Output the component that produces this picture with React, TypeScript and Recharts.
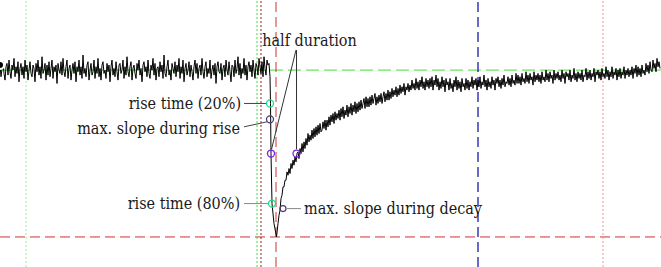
import React from "react";
import { Line, LineChart, ReferenceDot, ReferenceLine, XAxis, YAxis } from "recharts";

// trace sampled every time unit, amplitude in % of the event (baseline 0, peak -100)
const SAMPLE_STEP = 1;

const baselineStart = 0;
const baselineTrace = [
  3, -4, 1, 5, -2, -6, 2, 4, -3, 6,
  -1, -5, 3, 0, 7, -4, 2, -2, 5, -7,
  1, 4, -3, 2, -5, 6, -1, 3, -6, 0,
  5, -2, -4, 3, 1, -7, 4, -1, 6, -3,
  2, -5, 8, -2, 0, 4, -6, 3, -3, 5,
  -4, 1, 6, -5, 2, -1, 3, -8, 4, 0,
  -2, 5, -3, 7, -1, -4, 2, 6, -5, 1,
  3, -6, 0, 4, -2, 5, -7, 2, -1, 6,
  -3, 2, -5, 9, -2, 1, -4, 3, 5, -6,
  0, 4, -3, -1, 6, -5, 2, -2, 7, -4,
  1, -6, 3, 5, -2, 0, -5, 4, -1, 3,
  -7, 2, 6, -3, 1, -4, 5, -1, -6, 3,
  4, -2, 0, 6, -5, 2, -3, 8, -1, -4,
  2, 5, -6, 1, 3, -2, -5, 4, 0, 6,
  -3, 1, -7, 3, 5, -1, 2, -4, 6, -2,
  -5, 3, 0, 7, -3, 4, -6, 1, 2, -4,
  5, -1, 3, -5, 9, -2, -4, 2, 6, -3,
  0, -6, 4, 1, -2, 5, -4, 3, -1, 7,
  -5, 2, -2, 6, -7, 1, 4, -3, 0, 5,
  -4, 3, -1, -6, 2, 6, -2, 4, -5, 1,
  3, -3, 7, -1, -5, 2, 5, -4, 1, -2,
  6, -5, 0, 3, -3, 4, -8, 2, 5, -1,
  -2, 4, -6, 1, 3, -4, 6, 0, -3, 5,
  -1, -7, 3, 2, -4, 6, -2, 1, 8, -3,
  4, -5, 1, -2, 7, -3, 3, -6, 2, 5,
  -1, 3, -4, 6, 0, -5, 4, 2, -3, 7,
  2, -2, 5, -4, 8, 1, -3, 6, 3, 4,
];

const riseTimes = [270, 270.5, 271, 272, 274, 276.5];
const riseValues = [-4, -20, -50, -80, -92, -100];

const decayStart = 278;
const decayTrace = [
  -92, -87, -84, -77, -75, -70, -70, -66, -66, -61,
  -63, -59, -62, -56, -59, -54, -57, -52, -55, -50,
  -49, -53, -47, -50, -44, -49, -43, -47, -41, -45,
  -38, -43, -39, -42, -36, -41, -35, -40, -34, -39,
  -33, -38, -32, -37, -36, -31, -35, -30, -36, -30,
  -34, -28, -33, -27, -31, -26, -32, -25, -30, -26,
  -29, -24, -30, -23, -28, -22, -29, -24, -27, -21,
  -28, -22, -26, -20, -27, -21, -25, -19, -26, -20,
  -25, -19, -24, -18, -23, -20, -17, -23, -16, -22,
  -17, -22, -16, -21, -15, -20, -17, -14, -21, -16,
  -20, -15, -19, -14, -20, -16, -13, -19, -14, -18,
  -12, -18, -13, -17, -11, -16, -12, -15, -10, -16,
  -11, -15, -9, -14, -10, -13, -8, -15, -10, -12,
  -8, -13, -9, -12, -6, -11, -8, -12, -5, -11,
  -7, -12, -6, -10, -4, -11, -7, -12, -5, -10,
  -6, -11, -5, -10, -4, -12, -6, -9, -3, -10,
  -5, -12, -7, -11, -4, -10, -6, -13, -5, -9,
  -7, -12, -5, -11, -8, -13, -6, -10, -4, -12,
  -6, -11, -7, -13, -5, -10, -8, -12, -5, -11,
  -6, -12, -7, -10, -4, -11, -6, -9, -5, -12,
  -6, -10, -4, -11, -7, -9, -3, -10, -6, -12,
  -5, -10, -7, -11, -4, -9, -6, -12, -5, -8,
  -4, -10, -6, -11, -5, -9, -3, -10, -7, -8,
  -4, -9, -5, -10, -3, -8, -6, -9, -2, -8,
  -3, -8, -4, -9, -2, -7, -5, -8, -1, -7,
  -3, -8, -2, -6, -4, -9, -1, -7, -3, -6,
  -2, -7, -3, -8, -1, -6, -4, -7, 0, -6,
  -2, -7, -1, -5, -3, -8, 0, -6, -2, -5,
  -1, -6, -3, -7, 0, -5, -2, -8, -1, -4,
  -2, -6, 0, -7, -3, -5, 1, -6, -2, -7,
  -1, -5, -2, -6, 0, -7, -3, -4, 1, -6,
  -1, -5, 0, -6, -2, -4, 1, -7, -1, -3,
  0, -5, -1, -6, 1, -4, -2, -5, 2, -4,
  0, -6, -1, -4, 2, -5, -1, -3, 1, -6,
  0, -4, 1, -5, -1, -3, 2, -5, 0, -3,
  1, -4, 0, -3, 2, -5, 1, -2, 3, -4,
  2, -3, 1, -4, 3, -2, 0, -3, 4, -1,
  3, -2, 5, 0, -1, 6, 1, 4, -1, 7,
  2, 5, 1,
];

// cursors
const windowStart = 26;
const eventStart = 257;
const riseStart = 261;
const peakTime = 276;
const decayCursor = 478;
const windowEnd = 603;
const baselineLevel = 0;
const peakLevel = -100;

// measured points
const rise20 = { t: 270, v: -20 };
const maxRiseSlope = { t: 270, v: -29.5 };
const halfRise = { t: 271, v: -50 };
const halfDecay = { t: 296.5, v: -50 };
const rise80 = { t: 272, v: -80 };
const maxDecaySlope = { t: 283, v: -83 };

const rows = [
  ...baselineTrace.map((v, i) => ({ t: baselineStart + i * SAMPLE_STEP, v })),
  ...riseTimes.map((t, i) => ({ t, v: riseValues[i] })),
  ...decayTrace.map((v, i) => ({ t: decayStart + i * SAMPLE_STEP, v })),
];

const FONT = '"DejaVu Serif Condensed", "Liberation Serif", serif';

function note(text: string, anchor: "start" | "middle" | "end") {
  return (p: any) => (
    <text
      x={p.cx}
      y={p.cy}
      dy="0.35em"
      textAnchor={anchor}
      style={{ fontFamily: FONT, fontSize: 16 }}
      fill="#1a1a1a"
    >
      {text}
    </text>
  );
}

export default function App() {
  return (
    <div style={{ position: "absolute", left: 0, top: 0, width: 661, height: 267, background: "#fff" }}>
      <LineChart width={661} height={267} data={rows} margin={{ top: 0, right: 0, bottom: 0, left: 0 }}>
        <XAxis dataKey="t" type="number" domain={[0, 661]} hide allowDataOverflow />
        <YAxis type="number" domain={[-118, 42]} hide allowDataOverflow />

        <ReferenceLine y={baselineLevel} stroke="#44dd33" strokeDasharray="13 5" />
        <ReferenceLine y={peakLevel} stroke="#cc3333" strokeDasharray="10 5" />
        <ReferenceLine x={windowStart} stroke="#99ee99" strokeDasharray="2 2" />
        <ReferenceLine x={eventStart} stroke="#44dd44" strokeDasharray="2 2" />
        <ReferenceLine x={riseStart} stroke="#992222" strokeDasharray="2 2" />
        <ReferenceLine x={peakTime} stroke="#cc3333" strokeDasharray="10 5" />
        <ReferenceLine x={decayCursor} stroke="#1a1aaa" strokeDasharray="10 5" strokeWidth={1.3} />
        <ReferenceLine x={windowEnd} stroke="#f09a9a" strokeDasharray="2 2" />

        <Line dataKey="v" type="linear" stroke="#000" strokeWidth={1} dot={false} isAnimationActive={false} />

        {/* leader lines */}
        <ReferenceLine segment={[{ x: 244, y: rise20.v }, { x: rise20.t - 3.5, y: rise20.v }]} stroke="#444" />
        <ReferenceLine segment={[{ x: 244, y: -34 }, { x: maxRiseSlope.t - 3, y: maxRiseSlope.v - 1.5 }]} stroke="#444" />
        <ReferenceLine segment={[{ x: 244, y: rise80.v }, { x: rise80.t - 3.5, y: rise80.v }]} stroke="#888" />
        <ReferenceLine segment={[{ x: maxDecaySlope.t + 4, y: maxDecaySlope.v }, { x: 301, y: maxDecaySlope.v }]} stroke="#888" />
        <ReferenceLine segment={[{ x: 296, y: 12 }, { x: halfRise.t + 0.5, y: halfRise.v + 2.5 }]} stroke="#333" />
        <ReferenceLine segment={[{ x: 296.5, y: 12 }, { x: halfDecay.t, y: halfDecay.v + 2.5 }]} stroke="#333" />

        {/* markers */}
        <ReferenceDot x={rise20.t} y={rise20.v} r={3.5} fill="none" stroke="#22d98a" strokeWidth={1.3} />
        <ReferenceDot x={maxRiseSlope.t} y={maxRiseSlope.v} r={3.5} fill="none" stroke="#4a3a7a" strokeWidth={1.3} />
        <ReferenceDot x={halfRise.t} y={halfRise.v} r={3.5} fill="none" stroke="#7a22e0" strokeWidth={1.3} />
        <ReferenceDot x={halfDecay.t} y={halfDecay.v} r={3.5} fill="none" stroke="#7a22e0" strokeWidth={1.3} />
        <ReferenceDot x={rise80.t} y={rise80.v} r={3.5} fill="none" stroke="#22d98a" strokeWidth={1.3} />
        <ReferenceDot x={maxDecaySlope.t} y={maxDecaySlope.v} r={3} fill="none" stroke="#4a3a6a" strokeWidth={1.2} />

        {/* labels */}
        <ReferenceDot x={309.5} y={18} r={0} shape={note("half duration", "middle")} />
        <ReferenceDot x={241} y={rise20.v} r={0} shape={note("rise time (20%)", "end")} />
        <ReferenceDot x={240} y={-35} r={0} shape={note("max. slope during rise", "end")} />
        <ReferenceDot x={240} y={rise80.v} r={0} shape={note("rise time (80%)", "end")} />
        <ReferenceDot x={304} y={maxDecaySlope.v} r={0} shape={note("max. slope during decay", "start")} />
      </LineChart>
    </div>
  );
}
